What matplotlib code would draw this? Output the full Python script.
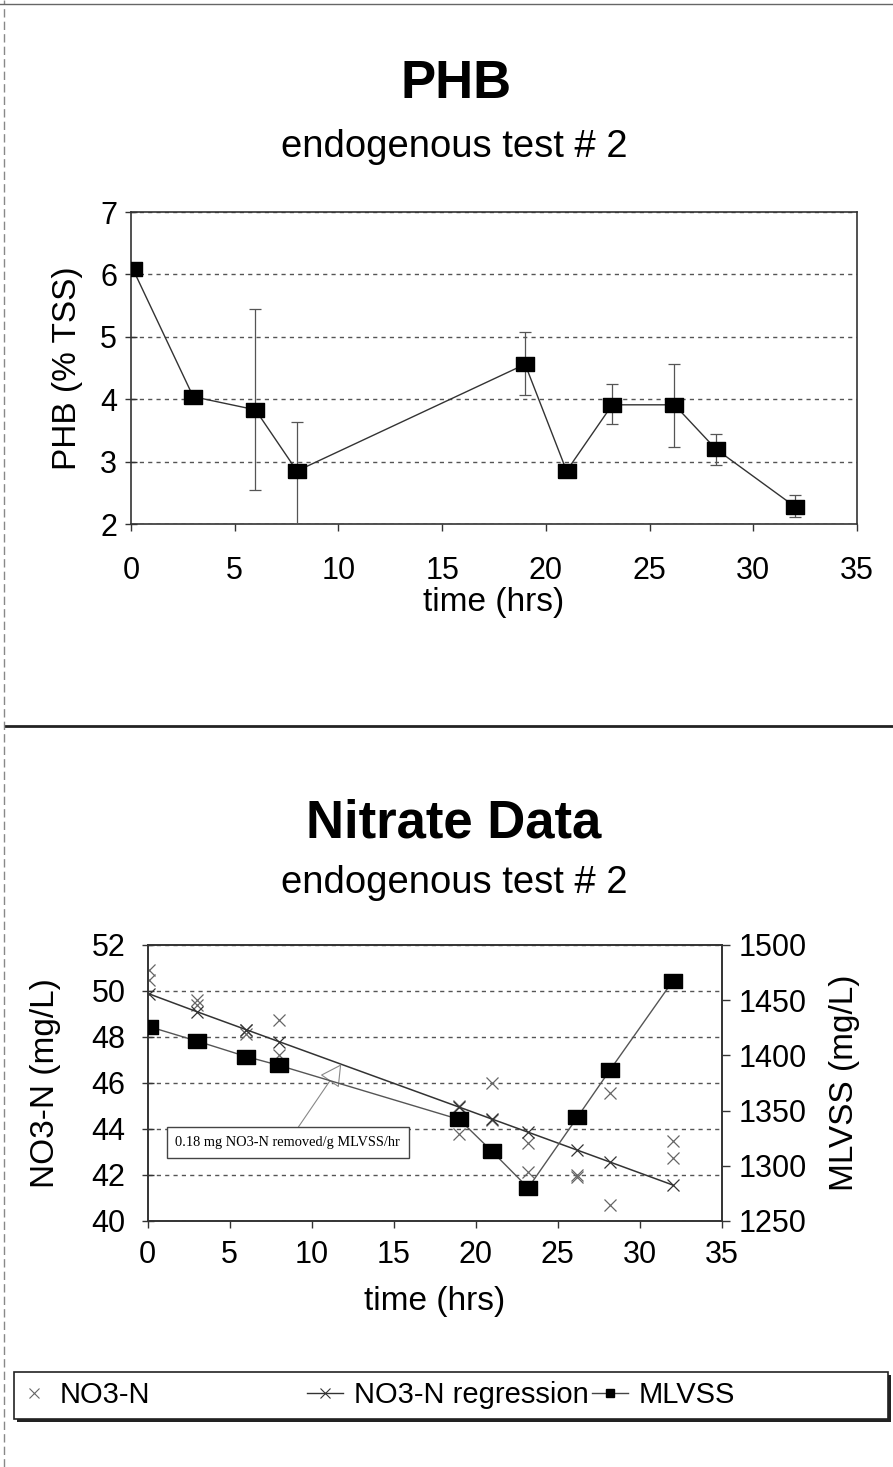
import numpy as np
import matplotlib.pyplot as plt
from matplotlib.lines import Line2D
from matplotlib.patches import Rectangle

plt.rcParams['font.family'] = ['Liberation Sans', 'DejaVu Sans']

# sampling times (hrs)
time_hrs = [0.1, 3.0, 6.0, 8.0, 19.0, 21.0, 23.2, 26.2, 28.2, 32.0]

# PHB (% TSS) with error bars
phb = [6.08, 4.04, 3.83, 2.85, 4.56, 2.85, 3.91, 3.91, 3.20, 2.28]
phb_err_low = [0.0, 0.0, 1.29, 0.85, 0.50, 0.0, 0.30, 0.67, 0.25, 0.16]
phb_err_high = [0.0, 0.0, 1.61, 0.79, 0.52, 0.0, 0.33, 0.65, 0.24, 0.18]

# nitrate replicates
no3_t = [0.1, 0.1, 3, 3, 6, 6, 8, 8, 19, 19, 21, 21, 23.2, 23.2, 26.2, 26.2, 28.2, 28.2, 32, 32]
no3_n = [50.9, 50.5, 49.6, 49.4, 48.3, 48.15, 48.75, 47.2, 45.0, 43.8,
         46.0, 44.4, 43.4, 42.15, 42.0, 41.9, 45.55, 40.7, 43.5, 42.75]
no3_reg = [49.87, 49.1, 48.32, 47.8, 44.95, 44.43, 43.86, 43.08, 42.56, 41.57]
mlvss = [1426, 1413, 1399, 1391, 1342, 1313, 1280, 1344, 1387, 1467]

rate_label = "0.18 mg NO3-N removed/g MLVSS/hr"

W, H = 893, 1467
fig = plt.figure(figsize=(W / 100, H / 100), dpi=100)

box = [(-1.35, -1), (1.35, -1), (1.35, 1), (-1.35, 1), (-1.35, -1)]
grid_style = dict(color='#555555', linestyle=(0, (3, 3)), linewidth=1)


def style_axis(ax, ypad, xpad):
    for s in ax.spines.values():
        s.set_color('#333333')
        s.set_linewidth(1.2)
    ax.tick_params(axis='y', direction='inout', length=8, width=1, labelsize=22, pad=ypad, colors='#333333', labelcolor='black')
    ax.tick_params(axis='x', direction='out', length=5, width=1, labelsize=22, pad=xpad, colors='#333333', labelcolor='black')


# ---- top: PHB ----
ax1 = fig.add_axes([131 / W, 1 - 524 / H, 726 / W, 312 / H])
ax1.errorbar(time_hrs, phb, yerr=[phb_err_low, phb_err_high], color='#333333', lw=1,
             marker=box, ms=13, mfc='black', mec='black',
             ecolor='#555555', elinewidth=0.9, capsize=4, capthick=0.9, zorder=3)
ax1.set_xlim(0, 35)
ax1.set_ylim(2, 7)
ax1.set_xticks(np.arange(0, 36, 5))
ax1.set_yticks(np.arange(2, 8, 1))
ax1.yaxis.grid(True, **grid_style)
ax1.set_axisbelow(True)
style_axis(ax1, 6, 18)
ax1.set_xlabel('time (hrs)', fontsize=24, labelpad=1)
ax1.set_ylabel('PHB (% TSS)', fontsize=24, labelpad=12)

fig.text(456 / W, 1 - 98 / H, 'PHB', fontsize=38, fontweight='bold', ha='center', va='baseline')
fig.text(454 / W, 1 - 157 / H, 'endogenous test # 2', fontsize=27.5, ha='center', va='baseline')

# ---- bottom: nitrate ----
ax2 = fig.add_axes([147.7 / W, 1 - 1221 / H, 574 / W, 276 / H])
ax2.plot(no3_t, no3_n, ls='none', marker='x', ms=9, mew=0.9, color='#666666', zorder=3)
ax2.plot(time_hrs, no3_reg, color='#333333', lw=1.1, marker='x', ms=8, mew=0.9, zorder=3)
ax2.set_xlim(0, 35)
ax2.set_ylim(40, 52)
ax2.set_xticks(np.arange(0, 36, 5))
ax2.set_yticks(np.arange(40, 53, 2))
ax2.yaxis.grid(True, **grid_style)
ax2.set_axisbelow(True)
style_axis(ax2, 12, 9)
ax2.set_xlabel('time (hrs)', fontsize=24, labelpad=11)
ax2.set_ylabel('NO3-N (mg/L)', fontsize=24, labelpad=22)

ax2r = ax2.twinx()
ax2r.plot(time_hrs, mlvss, color='#555555', lw=1, marker=box, ms=13, mfc='black', mec='black', zorder=3)
ax2r.set_ylim(1250, 1500)
ax2r.set_yticks(np.arange(1250, 1501, 50))
for s in ax2r.spines.values():
    s.set_color('#333333')
    s.set_linewidth(1.2)
ax2r.tick_params(axis='y', direction='out', length=6, width=1, labelsize=22, pad=6, colors='#333333', labelcolor='black')
ax2r.set_ylabel('MLVSS (mg/L)', fontsize=24, labelpad=16)

tip_t = 11.8
tip_v = np.interp(tip_t, time_hrs, no3_reg)
ax2.annotate(rate_label, xy=(tip_t, tip_v), xytext=(0.244, 0.284), textcoords='axes fraction',
             ha='center', va='center', fontsize=10.4, family='Liberation Serif', zorder=6,
             bbox=dict(boxstyle='square,pad=0.6', fc='white', ec='#444444', lw=1),
             arrowprops=dict(arrowstyle='-|>,head_length=1.3,head_width=0.7', fc='white',
                             ec='#888888', lw=0.8, shrinkA=0, shrinkB=0))

fig.text(454 / W, 1 - 838 / H, 'Nitrate Data', fontsize=38, fontweight='bold', ha='center', va='baseline')
fig.text(454 / W, 1 - 893 / H, 'endogenous test # 2', fontsize=27.5, ha='center', va='baseline')

# ---- legend box ----
fig.add_artist(Rectangle((17 / W, 1 - 1422 / H), 874 / W, 47 / H, transform=fig.transFigure,
                         fc='#222222', ec='none', zorder=1))
fig.add_artist(Rectangle((14 / W, 1 - 1419 / H), 874 / W, 47 / H, transform=fig.transFigure,
                         fc='white', ec='#222222', lw=1.2, zorder=2))
handles = [
    Line2D([], [], ls='none', marker='x', ms=7, mew=0.8, color='#666666'),
    Line2D([], [], color='#333333', lw=1, marker='x', ms=7, mew=0.8),
    Line2D([], [], color='#444444', lw=1, marker='s', ms=6, mfc='black', mec='black'),
]
names = ['NO3-N', 'NO3-N regression', 'MLVSS']
starts = [16, 307, 592]
for h, n, x0 in zip(handles, names, starts):
    lg = fig.legend(handles=[h], labels=[n], loc='center left', bbox_to_anchor=(x0 / W, 1 - 1395 / H),
                    frameon=False, borderpad=0, borderaxespad=0, handlelength=1.25,
                    handletextpad=0.25 if n == 'NO3-N' else 0.35, fontsize=21)
    lg.set_zorder(3)

# page rules
fig.add_artist(Line2D([5 / W, 1], [1 - 726 / H, 1 - 726 / H], transform=fig.transFigure, color='#222222', lw=2))
fig.add_artist(Line2D([4 / W, 4 / W], [0, 1], transform=fig.transFigure, color='#888888', lw=1, ls=(0, (6, 3))))
fig.add_artist(Line2D([0, 1], [1 - 4 / H, 1 - 4 / H], transform=fig.transFigure, color='#666666', lw=1))

fig.savefig('out.png', dpi=100)
